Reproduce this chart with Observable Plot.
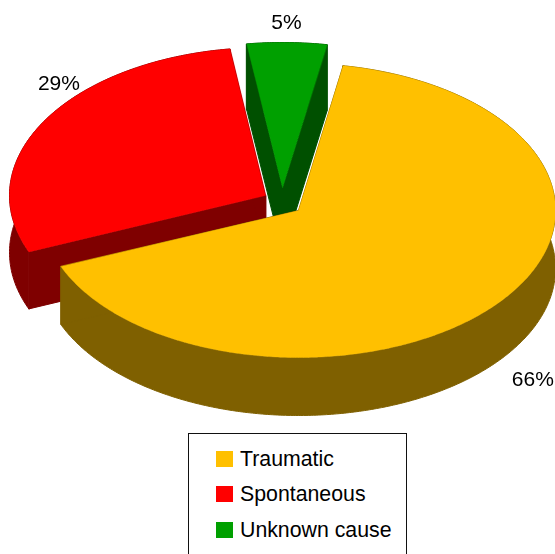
<!DOCTYPE html>
<html>
<head>
<meta charset="utf-8">
<script src="https://cdn.jsdelivr.net/npm/d3@7"></script>
<script src="https://cdn.jsdelivr.net/npm/@observablehq/plot@0.6"></script>
<style>
  html, body { margin: 0; padding: 0; background: #fff; overflow: hidden; }
  #chart svg { display: block; }
  #legend {
    position: absolute; left: 188px; top: 433px; width: 219px; height: 125px;
    border: 1.5px solid #111; box-sizing: border-box; background: #fff;
    font: 21.3px "Liberation Sans", Arial, sans-serif; color: #000;
  }
  #legend .row { position: absolute; left: 27px; height: 24px; display: flex; align-items: center; white-space: nowrap; }
  #legend .sw { width: 17px; height: 16px; margin-right: 7px; flex: none; }
</style>
</head>
<body>
<div id="chart"></div>
<div id="legend"></div>
<script>
// Data
const categories = ["Traumatic", "Spontaneous", "Unknown cause"];
const shares = [66, 29, 5];
const labels = ["66%", "29%", "5%"];
const topColors = ["#FFC000", "#FF0000", "#00A000"];
const sideColors = ["#7F6000", "#7F0000", "#005000"];

// Layout of the tilted pie (pixel space of the 555 wide picture)
const W = 555, H = 433;
const firstAngle = 10 * Math.PI / 180;
const rx = [257, 256, 257];
const ry = [147, 148, 145];
const depth = [58, 57, 66];
const apexX = [298, 265, 282];
const apexY = [210, 195, 187];
const labelFx = [1.17, 0.93, 0.9];
const labelFy = [1.2, 1.53, 1.14];
const labelDrop = [58, 0, 0];
const drawOrder = [1, 2, 0];

const arcs = d3.pie().sort(null).startAngle(firstAngle).endAngle(firstAngle + 2 * Math.PI)(shares);

const rim = (i, t) => [apexX[i] + rx[i] * Math.sin(t), apexY[i] - ry[i] * Math.cos(t)];

const marks = [];
const polygon = (pts, color, strokeWidth) => Plot.line(pts, {
  x: d => d[0], y: d => d[1], fill: color, stroke: color, strokeWidth, curve: "linear-closed"
});

for (const i of drawOrder) {
  const a = arcs[i];
  const down = ([x, y]) => [x, y + depth[i]];
  const n = Math.ceil((a.endAngle - a.startAngle) / 0.01);
  const outer = d3.range(n + 1).map(k => rim(i, a.startAngle + (a.endAngle - a.startAngle) * k / n));
  const apex = [apexX[i], apexY[i]];
  const first = outer[0], last = outer[n];
  marks.push(
    polygon([...outer, ...outer.map(down).reverse()], sideColors[i], 1),
    polygon([apex, first, down(first), down(apex)], sideColors[i], 1),
    polygon([apex, last, down(last), down(apex)], sideColors[i], 1),
    polygon([apex, ...outer], topColors[i], 0.4)
  );
}

const labelRows = categories.map((c, i) => {
  const t = (arcs[i].startAngle + arcs[i].endAngle) / 2;
  return {
    text: labels[i],
    x: apexX[i] + rx[i] * Math.sin(t) * labelFx[i],
    y: apexY[i] - ry[i] * Math.cos(t) * labelFy[i] + labelDrop[i]
  };
});

const plot = Plot.plot({
  width: W, height: H,
  margin: 0,
  x: {domain: [0, W], range: [0, W], axis: null},
  y: {domain: [0, H], range: [0, H], axis: null},
  style: {background: "#fff", overflow: "hidden", filter: "blur(0.35px)"},
  marks: [
    ...marks,
    Plot.text(labelRows, {x: "x", y: "y", text: "text", fontSize: 21, fontFamily: "Liberation Sans, Arial, sans-serif", fill: "#000", textAnchor: "middle"})
  ]
});
document.getElementById("chart").append(plot);

// Legend, below the SVG
const legend = document.getElementById("legend");
const rowTops = [13, 48, 84];
categories.forEach((c, i) => {
  const row = document.createElement("div");
  row.className = "row";
  row.style.top = rowTops[i] + "px";
  const sw = document.createElement("span");
  sw.className = "sw";
  sw.style.background = topColors[i];
  const tx = document.createElement("span");
  tx.textContent = c;
  row.append(sw, tx);
  legend.append(row);
});
</script>
</body>
</html>
